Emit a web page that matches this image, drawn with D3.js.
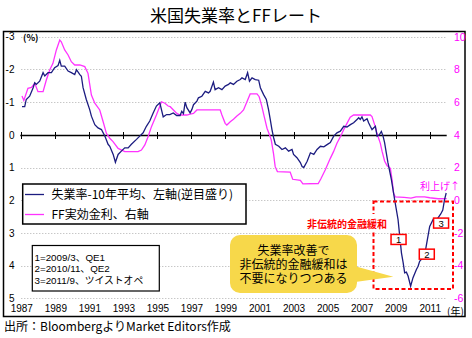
<!DOCTYPE html>
<html><head><meta charset="utf-8">
<script src="https://cdn.jsdelivr.net/npm/d3@7"></script>
<style>
body{margin:0;background:#fff;}
svg text{font-family:"Noto Sans CJK JP","Noto Sans",sans-serif;}
svg text.tight{font-family:"Liberation Sans","Noto Sans CJK JP",sans-serif;}
</style></head>
<body>
<svg id="c" width="472" height="338"></svg>
<script>
// ---- data ----
const unempYears = [1987.04,1987.2,1987.29,1987.49,1987.69,1987.79,1987.88,1988.08,1988.28,1988.38,1988.57,1988.77,1988.96,1989.16,1989.26,1989.35,1989.55,1989.75,1989.94,1990.14,1990.24,1990.44,1990.53,1990.63,1990.82,1991.02,1991.12,1991.32,1991.51,1991.71,1991.91,1992.1,1992.2,1992.4,1992.53,1992.69,1992.88,1993.08,1993.28,1993.47,1993.77,1993.96,1994.16,1994.35,1994.55,1994.75,1994.94,1995.14,1995.34,1995.54,1995.73,1995.93,1996.13,1996.33,1996.43,1996.53,1996.63,1996.73,1996.92,1997.02,1997.12,1997.32,1997.41,1997.61,1997.81,1998.0,1998.1,1998.29,1998.39,1998.59,1998.79,1998.98,1999.18,1999.28,1999.47,1999.67,1999.87,1999.97,2000.16,2000.3,2000.41,2000.56,2000.75,2000.95,2001.05,2001.24,2001.4,2001.53,2001.63,2001.73,2001.83,2001.93,2002.13,2002.32,2002.52,2002.71,2002.91,2003.0,2003.2,2003.4,2003.5,2003.6,2003.8,2003.99,2004.19,2004.38,2004.58,2004.78,2004.97,2005.16,2005.36,2005.55,2005.75,2005.95,2006.14,2006.34,2006.53,2006.73,2006.83,2006.92,2007.02,2007.12,2007.32,2007.41,2007.51,2007.61,2007.81,2007.91,2008.04,2008.16,2008.26,2008.35,2008.45,2008.55,2008.75,2008.94,2009.14,2009.24,2009.34,2009.44,2009.53,2009.63,2009.73,2009.88,2010.02,2010.22,2010.32,2010.41,2010.51,2010.71,2010.9,2011.0,2011.2,2011.35,2011.5,2011.65,2011.77,2011.87,2011.97];
const unempGap = [-0.86,-0.86,-1.08,-1.18,-1.43,-1.59,-1.54,-1.64,-1.9,-1.8,-1.9,-1.9,-2.05,-2.12,-2.28,-2.1,-2.1,-1.95,-1.9,-1.84,-1.99,-1.84,-1.79,-1.44,-1.08,-0.77,-0.57,-0.31,-0.21,-0.16,0.04,0.29,0.35,0.6,0.84,0.6,0.5,0.4,0.4,0.29,0.14,0.04,-0.06,-0.26,-0.42,-0.67,-0.88,-0.98,-0.55,-0.62,-0.62,-0.67,-0.59,-0.59,-0.72,-0.65,-1.0,-0.83,-0.67,-0.77,-0.92,-1.03,-1.13,-1.18,-1.33,-1.28,-1.33,-1.61,-1.38,-1.44,-1.38,-1.49,-1.54,-1.59,-1.54,-1.64,-1.69,-1.74,-1.69,-1.9,-1.64,-1.74,-1.69,-1.67,-1.44,-1.23,-1.08,-0.77,-0.47,-0.16,0.09,0.29,0.35,0.45,0.4,0.5,0.45,0.6,0.7,0.85,0.97,1.0,0.81,0.55,0.6,0.45,0.35,0.37,0.3,0.24,0.04,-0.06,-0.11,-0.26,-0.24,-0.31,-0.37,-0.47,-0.52,-0.47,-0.55,-0.42,-0.49,-0.37,-0.26,-0.16,-0.26,0.04,0.0,-0.1,0.04,0.24,0.55,0.86,1.37,1.98,2.59,3.1,3.61,3.91,4.22,4.2,4.32,4.63,4.37,4.12,4.02,3.87,3.81,3.66,3.1,2.8,2.59,2.65,2.53,2.42,2.3,1.99,1.78];
const ffYears = [1987.04,1987.15,1987.39,1987.6,1987.79,1987.98,1988.28,1988.47,1988.67,1988.86,1989.06,1989.26,1989.35,1989.55,1989.75,1989.94,1990.14,1990.44,1990.73,1990.92,1991.12,1991.32,1991.61,1991.81,1992.0,1992.2,1992.39,1992.69,1993.08,1993.47,1993.86,1994.06,1994.26,1994.45,1994.65,1994.94,1995.24,1995.44,1995.63,1995.75,1995.94,1996.14,1996.34,1996.73,1996.92,1997.12,1997.32,1998.69,1998.79,1998.98,1999.08,1999.28,1999.47,1999.67,1999.87,2000.06,2000.26,2000.45,2000.85,2000.98,2001.14,2001.28,2001.44,2001.59,2001.69,2001.82,2001.92,2002.05,2002.8,2002.95,2003.4,2003.55,2004.45,2004.6,2004.86,2005.16,2005.35,2005.55,2005.75,2005.94,2006.14,2006.33,2006.53,2007.51,2007.61,2007.8,2007.9,2008.1,2008.2,2008.35,2008.5,2008.69,2008.79,2008.88,2008.98,2009.5,2009.9,2010.2,2010.7,2011.0,2011.5,2012.0];
const ffRate = [6.37,6.1,6.84,6.9,7.15,6.64,6.64,7.35,7.96,8.37,9.19,9.8,9.69,9.19,8.88,8.47,8.27,8.27,8.17,7.76,6.43,5.93,5.52,4.8,4.09,3.79,3.58,3.17,2.97,2.97,2.97,3.07,3.38,3.88,4.5,5.21,6.02,5.93,5.76,5.72,5.52,5.31,5.21,5.21,5.27,5.31,5.52,5.52,5.21,4.7,4.6,4.8,4.95,5.15,5.31,5.52,6.02,6.5,6.5,6.33,5.72,5.1,4.4,3.99,3.68,2.87,2.05,1.75,1.72,1.28,1.22,1.0,1.02,1.3,1.85,2.56,2.97,3.48,3.88,4.29,4.7,5.07,5.21,5.21,5.11,4.5,4.09,3.48,3.0,2.4,2.1,1.95,1.24,0.42,0.2,0.17,0.13,0.2,0.2,0.15,0.09,0.1];
const xTickYears = [1987,1989,1991,1993,1995,1997,1999,2001,2003,2005,2007,2009,2011];
const leftTicks = [-3,-2,-1,0,1,2,3,4,5];
const rightTicks = [10,8,6,4,2,0,-2,-4,-6];
const events = [{n:"1",t:2009.17,v:3.2},{n:"2",t:2010.83,v:3.65},{n:"3",t:2011.67,v:2.7}];
const legendNotes = ["1=2009/3、QE1","2=2010/11、QE2","3=2011/9、ツイストオペ"];
const calloutLines = ["失業率改善で","非伝統的金融緩和は","不要になりつつある"];

// ---- layout ----
const svg = d3.select("#c");
const X0 = 21.3, X1 = 446.7, Y0 = 36.7, Y1 = 298.3;
const x = d3.scaleLinear().domain([1987, 2012]).range([X0, X1]);
const yL = d3.scaleLinear().domain([-3, 5]).range([Y0, Y1]);
const yR = d3.scaleLinear().domain([10, -6]).range([Y0, Y1]);
const NAVY = "#1c1c80", PINK = "#ff33ff";
const num = d => String(d);

svg.append("rect").attr("x",3.5).attr("y",31.5).attr("width",461.5).attr("height",285)
  .attr("fill","#fff").attr("stroke","#000").attr("stroke-width",1.5);

svg.append("text").attr("x",236).attr("y",22).attr("text-anchor","middle")
  .attr("font-size",17).text("米国失業率とFFレート");

// gridlines
svg.append("g").selectAll("line").data(leftTicks.filter(d=>d!==0)).join("line")
  .attr("x1",X0).attr("x2",X1).attr("y1",d=>Math.round(yL(d))+0.5).attr("y2",d=>Math.round(yL(d))+0.5)
  .attr("stroke","#b0b0b0").attr("stroke-width",1).attr("stroke-dasharray","1,2");

// left axis labels
const gl = svg.append("g").attr("transform",`translate(14.5,0)`)
  .call(d3.axisLeft(yL).tickValues(leftTicks).tickSize(0).tickPadding(0).tickFormat(num));
gl.select(".domain").remove();
gl.selectAll("text").attr("font-size",10).attr("fill","#000").style("font-family","'Liberation Sans',Arial,sans-serif");

// right axis labels
const gr = svg.append("g").attr("transform",`translate(454,0)`)
  .call(d3.axisRight(yR).tickValues(rightTicks).tickSize(0).tickPadding(0).tickFormat(num));
gr.select(".domain").remove();
gr.selectAll("text").attr("font-size",10.5).attr("fill","#ff00ff").style("font-family","'Liberation Sans',Arial,sans-serif");

// x labels
const gx = svg.append("g").attr("transform",`translate(0,${Y1})`)
  .call(d3.axisBottom(x).tickValues(xTickYears).tickSize(0).tickPadding(7).tickFormat(num));
gx.select(".domain").remove();
gx.selectAll("text").attr("font-size",10).attr("fill","#000").style("font-family","'Liberation Sans',Arial,sans-serif");

svg.append("text").attr("x",23).attr("y",40.5).attr("font-size",9).attr("font-weight","bold").text("(%)");
svg.append("text").attr("x",447).attr("y",315).attr("font-size",10).text("(年)");

// zero line with ticks
const y0 = Math.round(yL(0))+0.5;
svg.append("line").attr("x1",X0-1).attr("x2",X1).attr("y1",y0).attr("y2",y0).attr("stroke","#000").attr("stroke-width",1.3);
svg.append("g").selectAll("line").data(xTickYears).join("line")
  .attr("x1",d=>Math.round(x(d))+0.5).attr("x2",d=>Math.round(x(d))+0.5)
  .attr("y1",y0-3.5).attr("y2",y0+3.5).attr("stroke","#000").attr("stroke-width",1);

// series
const lineL = d3.line().x(d=>x(d[0])).y(d=>yL(d[1]));
const lineR = d3.line().x(d=>x(d[0])).y(d=>yR(d[1]));
svg.append("path").datum(ffYears.map((t,i)=>[t,ffRate[i]])).attr("d",lineR)
  .attr("fill","none").attr("stroke",PINK).attr("stroke-width",1.3);
svg.append("path").datum(unempYears.map((t,i)=>[t,unempGap[i]])).attr("d",lineL)
  .attr("fill","none").attr("stroke",NAVY).attr("stroke-width",1.3);

// legend 1
svg.append("rect").attr("x",22.7).attr("y",184).attr("width",223.3).attr("height",40)
  .attr("fill","#fff").attr("stroke","#000").attr("stroke-width",1.5);
svg.append("line").attr("x1",25).attr("x2",44).attr("y1",194.5).attr("y2",194.5).attr("stroke",NAVY).attr("stroke-width",1.3);
svg.append("line").attr("x1",25).attr("x2",44).attr("y1",214.5).attr("y2",214.5).attr("stroke",PINK).attr("stroke-width",1.3);
svg.append("text").attr("x",51.5).attr("y",198.8).attr("font-size",12).text("失業率-10年平均、左軸(逆目盛り)");
svg.append("text").attr("x",51.5).attr("y",218.8).attr("font-size",12).text("FF実効金利、右軸");

// legend 2
svg.append("rect").attr("x",32.3).attr("y",245.5).attr("width",127).attr("height",45.5)
  .attr("fill","#fff").attr("stroke","#000").attr("stroke-width",1.2);
legendNotes.forEach((s,i)=>{
  svg.append("text").attr("class","tight").attr("x",34.5).attr("y",260.5 + i*11.8)
    .attr("font-size",9.8).text(s);
});

// red dashed area
svg.append("rect").attr("x",373.5).attr("y",201.5).attr("width",79.5).attr("height",87.5)
  .attr("fill","none").attr("stroke","#ff0000").attr("stroke-width",2).attr("stroke-dasharray","4,2.5");
svg.append("rect").attr("x",305).attr("y",214).attr("width",83).attr("height",18).attr("fill","#fff");
svg.append("text").attr("x",307).attr("y",227.5).attr("font-size",10).attr("font-weight","bold")
  .attr("fill","#ff0000").text("非伝統的金融緩和");
svg.append("text").attr("x",420).attr("y",190).attr("font-size",10).attr("fill","#ff00ff").text("利上げ↑");

// event boxes
events.forEach(e=>{
  const cx = x(e.t), cy = yL(e.v);
  svg.append("rect").attr("x",cx-7.5).attr("y",cy-5).attr("width",15).attr("height",10)
    .attr("fill","#fff").attr("stroke","#ff0000").attr("stroke-width",1.5);
  svg.append("text").attr("x",cx).attr("y",cy+3.5).attr("text-anchor","middle")
    .attr("font-size",9.5).style("font-family","'Liberation Sans',Arial,sans-serif").text(e.n);
});

// callout
const cp = d3.path();
const L=230,T=235,R=357,B=293,r=10;
cp.moveTo(L+r,T); cp.lineTo(R-r,T); cp.arcTo(R,T,R,T+r,r); cp.lineTo(R,266.7);
cp.lineTo(393.3,276.7); cp.lineTo(R,281.7); cp.lineTo(R,B-r); cp.arcTo(R,B,R-r,B,r);
cp.lineTo(L+r,B); cp.arcTo(L,B,L,B-r,r); cp.lineTo(L,T+r); cp.arcTo(L,T,L+r,T,r); cp.closePath();
svg.append("path").attr("d",cp.toString()).attr("fill","#f7d84a");
calloutLines.forEach((s,i)=>{
  svg.append("text").attr("class","tight").attr("x",293.5).attr("y",254.5+i*14.2)
    .attr("text-anchor","middle").attr("font-size",12).text(s);
});

// footer
svg.append("text").attr("x",4).attr("y",331).attr("font-size",12).text("出所：BloombergよりMarket Editors作成");
</script>
</body></html>
